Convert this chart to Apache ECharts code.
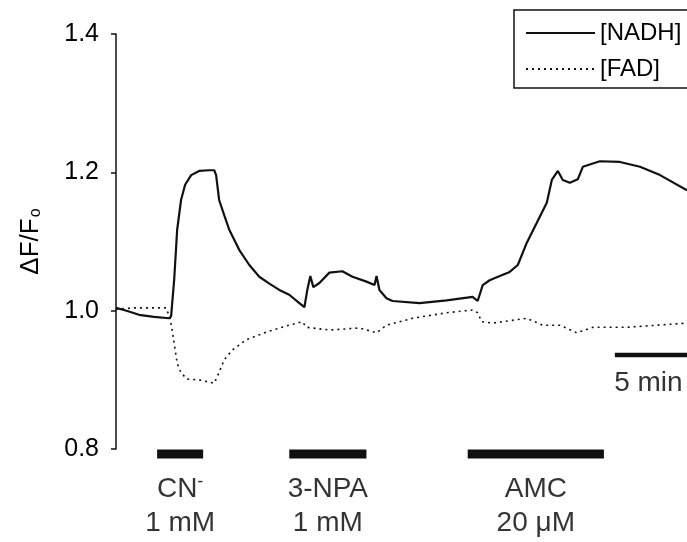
<!DOCTYPE html>
<html>
<head>
<meta charset="utf-8">
<script src="https://cdn.jsdelivr.net/npm/echarts@6/dist/echarts.min.js"></script>
<style>
html, body { margin: 0; padding: 0; background: #fff; }
#main { width: 687px; height: 542px; }
</style>
</head>
<body>
<div id="main"></div>
<script>
// time (min) and dF/Fo
const nadhTime = [0.00, 0.56, 1.60, 2.64, 3.68, 3.82, 4.03, 4.24, 4.51, 4.79, 5.21, 5.76, 6.46, 6.81, 6.94, 7.15, 7.50, 7.85, 8.54, 9.24, 9.93, 10.63, 11.32, 12.01, 12.71, 13.06, 13.26, 13.47, 13.68, 14.10, 14.79, 15.69, 16.39, 17.36, 17.92, 18.06, 18.26, 18.75, 19.17, 21.04, 22.92, 24.72, 25.07, 25.42, 25.90, 26.60, 27.29, 27.85, 28.47, 29.17, 29.86, 30.21, 30.63, 30.97, 31.46, 32.01, 32.36, 33.54, 34.93, 36.32, 37.71, 39.58];
const nadhValue = [1.004, 1.001, 0.994, 0.991, 0.989, 0.992, 1.044, 1.117, 1.160, 1.182, 1.196, 1.202, 1.203, 1.203, 1.196, 1.160, 1.138, 1.117, 1.088, 1.066, 1.049, 1.039, 1.030, 1.023, 1.011, 1.005, 1.030, 1.050, 1.034, 1.040, 1.055, 1.057, 1.049, 1.042, 1.037, 1.050, 1.030, 1.018, 1.014, 1.011, 1.015, 1.020, 1.014, 1.037, 1.044, 1.050, 1.056, 1.066, 1.098, 1.127, 1.156, 1.189, 1.202, 1.189, 1.185, 1.190, 1.208, 1.216, 1.215, 1.208, 1.196, 1.174];

const fadTime = [0.00, 1.25, 2.29, 3.47, 3.75, 3.89, 4.03, 4.24, 4.51, 4.93, 5.76, 6.81, 7.15, 7.50, 8.06, 9.03, 10.42, 11.81, 12.92, 13.19, 14.79, 16.88, 18.06, 18.75, 20.56, 22.92, 24.72, 25.07, 25.35, 26.11, 28.47, 29.58, 30.76, 31.94, 33.06, 35.42, 39.58];
const fadValue = [1.002, 1.004, 1.004, 1.004, 0.989, 0.972, 0.953, 0.924, 0.910, 0.901, 0.900, 0.895, 0.911, 0.929, 0.943, 0.958, 0.969, 0.978, 0.984, 0.976, 0.972, 0.975, 0.968, 0.979, 0.989, 0.997, 1.001, 0.997, 0.984, 0.982, 0.989, 0.979, 0.979, 0.968, 0.976, 0.976, 0.982];

// drug applications (min)
const drugNames = ['{a|CN}{s|-}', '3-NPA', 'AMC'];
const drugDoses = ['1 mM', '1 mM', '20 μM'];
const drugStart = [2.85, 12.01, 24.38];
const drugEnd = [6.04, 17.36, 33.82];

const scaleBarTime = [34.58, 39.58]; // 5 min
const scaleBarLevel = 0.936;
const tMax = 39.58;

const font = 'Liberation Sans, Arial, Helvetica, sans-serif';
const ink = '#111';
const textInk = '#000';

const chart = echarts.init(document.getElementById('main'));

const nadhData = nadhTime.map((t, i) => [t, nadhValue[i]]);
const fadData = fadTime.map((t, i) => [t, fadValue[i]]);

const series = [
  {
    name: '[NADH]',
    type: 'line',
    data: nadhData,
    symbol: 'none',
    lineStyle: { color: ink, width: 2.2 },
    itemStyle: { color: ink }
  },
  {
    name: '[FAD]',
    type: 'line',
    data: fadData,
    symbol: 'none',
    lineStyle: { color: ink, width: 1.6, type: [2, 4] },
    itemStyle: { color: ink }
  },
  // 5 min scale bar
  {
    type: 'line',
    data: [[scaleBarTime[0], scaleBarLevel], [scaleBarTime[1], scaleBarLevel]],
    symbol: 'none',
    lineStyle: { color: ink, width: 4.5 }
  },
  {
    type: 'scatter',
    data: [[scaleBarTime[0] - 0.05, 0.895]],
    symbolSize: 0,
    label: {
      show: true, position: 'inside', align: 'left', formatter: '5 min',
      color: textInk, fontSize: 28, fontFamily: font
    }
  }
];

// drug bars and labels in the lower grid
drugStart.forEach((s, i) => {
  series.push({
    type: 'line',
    xAxisIndex: 1,
    yAxisIndex: 1,
    data: [[s, 14], [drugEnd[i], 14]],
    symbol: 'none',
    lineStyle: { color: ink, width: 9, cap: 'butt' }
  });
  const mid = (s + drugEnd[i]) / 2;
  series.push({
    type: 'scatter',
    xAxisIndex: 1,
    yAxisIndex: 1,
    symbolSize: 0,
    data: [
      { value: [mid, 49], label: { formatter: drugNames[i] } },
      { value: [mid, 83], label: { formatter: drugDoses[i] } }
    ],
    label: {
      show: true, position: 'inside', color: textInk, fontSize: 28, fontFamily: font,
      rich: {
        a: { fontSize: 28, fontFamily: font, color: textInk },
        s: { fontSize: 18, fontFamily: font, color: textInk, verticalAlign: 'top', padding: [0, 0, 14, 0] }
      }
    }
  });
});

chart.setOption({
  backgroundColor: '#fff',
  animation: false,
  legend: {
    data: ['[NADH]', '[FAD]'],
    orient: 'vertical',
    left: 514,
    top: 10,
    padding: [11, 40, 7, 11],
    itemWidth: 69,
    itemHeight: 14,
    itemGap: 12,
    borderColor: ink,
    borderWidth: 1.5,
    itemStyle: { opacity: 0, color: 'rgba(0,0,0,0)', borderWidth: 0 },
    textStyle: { fontSize: 24, fontFamily: font, color: textInk }
  },
  grid: [
    { left: 116, right: 0, top: 34, height: 415 },
    { left: 116, right: 0, top: 440, height: 102 }
  ],
  xAxis: [
    { type: 'value', gridIndex: 0, min: 0, max: tMax, show: false },
    { type: 'value', gridIndex: 1, min: 0, max: tMax, show: false }
  ],
  yAxis: [
    {
      type: 'value',
      gridIndex: 0,
      min: 0.8,
      max: 1.4,
      interval: 0.2,
      name: '{d|ΔF/F}{o|o}',
      nameLocation: 'middle',
      nameRotate: 90,
      nameGap: 72,
      nameTextStyle: {
        rich: {
          d: { fontSize: 26, fontFamily: font, color: textInk },
          o: { fontSize: 16, fontFamily: font, color: textInk, verticalAlign: 'bottom', padding: [10, 0, 0, 1] }
        }
      },
      axisLine: { show: true, lineStyle: { color: ink, width: 1.5 } },
      axisTick: { show: true, inside: false, length: 5, lineStyle: { color: ink, width: 1.5 } },
      axisLabel: {
        formatter: v => v.toFixed(1),
        fontSize: 25, fontFamily: font, color: textInk, margin: 17
      },
      splitLine: { show: false }
    },
    { type: 'value', gridIndex: 1, min: 0, max: 102, inverse: true, show: false }
  ],
  series: series
});
</script>
</body>
</html>
